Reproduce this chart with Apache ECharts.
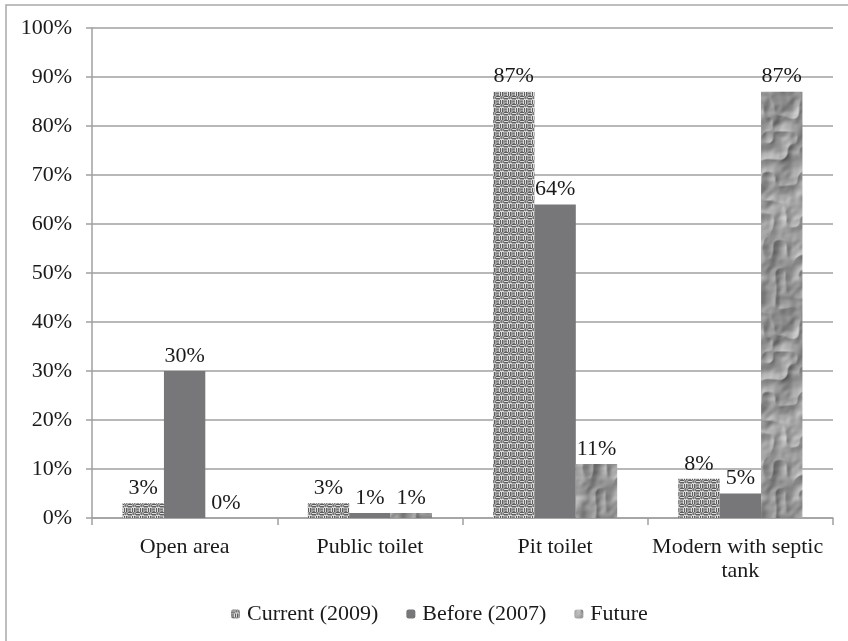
<!DOCTYPE html>
<html><head><meta charset="utf-8">
<script src="https://cdn.jsdelivr.net/npm/echarts@6/dist/echarts.min.js"></script>
<style>html,body{margin:0;padding:0;background:#fff}#c{width:848px;height:641px}</style>
</head><body><div id="c"></div>
<script>
var categories = ['Open area', 'Public toilet', 'Pit toilet', 'Modern with septic tank'];
var currentValues = [3, 3, 87, 8];
var beforeValues = [30, 1, 64, 5];
var futureValues = [0, 1, 11, 87];
var yTicks = [0, 10, 20, 30, 40, 50, 60, 70, 80, 90, 100];

function hash(x, y, s) {
  var n = Math.sin(x * 127.1 + y * 311.7 + s * 74.7) * 43758.5453;
  return n - Math.floor(n);
}
function weaveCanvas() {
  var c = document.createElement('canvas'); c.width = 8; c.height = 8;
  var g = c.getContext('2d');
  g.fillStyle = '#a2a2a2'; g.fillRect(0, 0, 8, 8);
  g.fillStyle = '#5c5c5c';
  g.fillRect(0, 0, 4, 1); g.fillRect(0, 2, 4, 1);
  g.fillRect(4, 4, 1, 4); g.fillRect(6, 4, 1, 4);
  g.fillStyle = '#7a7a7a';
  g.fillRect(5, 0, 1, 3); g.fillRect(7, 1, 1, 2);
  g.fillRect(0, 5, 3, 1); g.fillRect(1, 7, 3, 1);
  g.fillStyle = '#dcdcdc';
  g.fillRect(0, 1, 4, 1); g.fillRect(5, 4, 1, 4); g.fillRect(4, 3, 4, 1); g.fillRect(3, 4, 1, 4);
  return c;
}
function textureCanvas() {
  var w = 60, h = 220;
  var c = document.createElement('canvas'); c.width = w; c.height = h;
  var g = c.getContext('2d');
  var img = g.createImageData(w, h);
  function mod(a, m) { return ((a % m) + m) % m; }
  function smooth(x, y, sx, sy, seed) {
    var px = Math.round(w / sx), py = Math.round(h / sy);
    sx = w / px; sy = h / py;
    var xs = mod(x, w) / sx, ys = mod(y, h) / sy;
    var x0 = Math.floor(xs), y0 = Math.floor(ys);
    var fx = xs - x0, fy = ys - y0;
    fx = fx * fx * (3 - 2 * fx); fy = fy * fy * (3 - 2 * fy);
    var xa = mod(x0, px), xb = mod(x0 + 1, px), ya = mod(y0, py), yb = mod(y0 + 1, py);
    var a = hash(xa, ya, seed), b = hash(xb, ya, seed), cc = hash(xa, yb, seed), d = hash(xb, yb, seed);
    return a + (b - a) * fx + (cc - a) * fy + (a - b - cc + d) * fx * fy;
  }
  function height(x, y) {
    return smooth(x, y, 20, 24, 1) * 0.7 + Math.abs(smooth(x, y, 12, 14, 2) - 0.5) * 0.9 + smooth(x, y, 5, 5, 3) * 0.15;
  }
  for (var y = 0; y < h; y++) {
    for (var x = 0; x < w; x++) {
      var hx = height(x + 1, y) - height(x - 1, y);
      var hy = height(x, y + 1) - height(x, y - 1);
      var shade = (hx * -0.7 + hy * -0.7) * 300;
      var t = 152 + shade + (smooth(x, y, 30, 44, 4) - 0.5) * 50;
      t = Math.max(55, Math.min(225, t));
      var i = (y * w + x) * 4;
      img.data[i] = t; img.data[i + 1] = t; img.data[i + 2] = t; img.data[i + 3] = 255;
    }
  }
  g.putImageData(img, 0, 0);
  return c;
}
var weave = { image: weaveCanvas(), repeat: 'repeat' };
var texture = { image: textureCanvas(), repeat: 'repeat' };

var font = 'Liberation Serif';
var fs = 22;
var labelOpt = { show: true, position: 'top', distance: 4, formatter: '{c}%', fontFamily: font, fontSize: fs, color: '#1a1a1a' };

var chart = echarts.init(document.getElementById('c'));
chart.setOption({
  animation: false,
  backgroundColor: '#fff',
  textStyle: { fontFamily: font },
  graphic: [{ type: 'rect', shape: { x: 6, y: 5, width: 900, height: 700 }, style: { fill: 'none', stroke: '#a9a9a9', lineWidth: 1.5 }, silent: true }],
  grid: { left: 92, right: 15, top: 28, bottom: 123 },
  legend: {
    top: 598, left: 226, itemWidth: 9, itemHeight: 9, itemGap: 28,
    textStyle: { fontFamily: font, fontSize: fs, color: '#1a1a1a', padding: [0, 0, 0, 2] },
    data: ['Current (2009)', 'Before (2007)', 'Future']
  },
  xAxis: {
    type: 'category', data: categories,
    axisLine: { lineStyle: { color: '#a0a0a0', width: 1.5 } },
    axisTick: { show: true, alignWithLabel: false, length: 7, lineStyle: { color: '#a0a0a0', width: 1.5 } },
    axisLabel: { interval: 0, margin: 17, fontFamily: font, fontSize: fs, color: '#1a1a1a', width: 184, overflow: 'break', lineHeight: 24 }
  },
  yAxis: {
    type: 'value', min: 0, max: 100, interval: 10,
    axisLine: { show: true, lineStyle: { color: '#a0a0a0', width: 1.5 } },
    axisTick: { show: true, length: 6, lineStyle: { color: '#a0a0a0', width: 1.5 } },
    splitLine: { lineStyle: { color: '#a0a0a0', width: 1.5 } },
    axisLabel: { margin: 20, fontFamily: font, fontSize: fs, color: '#1a1a1a', formatter: function (v) { return yTicks.indexOf(v) >= 0 ? v + '%' : ''; } }
  },
  series: [
    { name: 'Current (2009)', type: 'bar', data: currentValues, barGap: '0%', barCategoryGap: '33%', itemStyle: { color: weave }, label: labelOpt },
    { name: 'Before (2007)', type: 'bar', data: beforeValues, barGap: '0%', barCategoryGap: '33%', itemStyle: { color: '#77777a' }, label: labelOpt },
    { name: 'Future', type: 'bar', data: futureValues, barGap: '0%', barCategoryGap: '33%', itemStyle: { color: texture }, label: labelOpt }
  ]
});
</script></body></html>
